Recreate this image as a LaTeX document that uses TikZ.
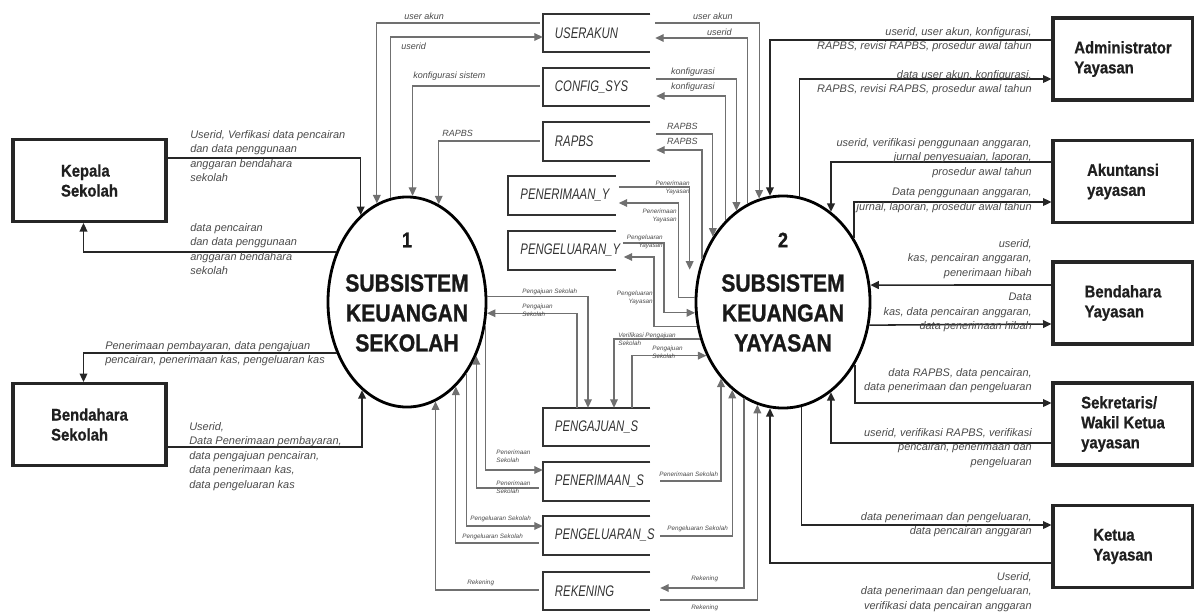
\documentclass[tikz,border=0pt]{standalone}
\usepackage{fontspec}
\setmainfont{Liberation Sans}
\newfontfamily\entfont[FakeStretch=0.88,FakeBold=0.8]{Liberation Sans Bold}
\newfontfamily\storefont[FakeStretch=0.74]{Liberation Sans}
\newfontfamily\procfont[FakeStretch=0.86,FakeBold=1]{Liberation Sans Bold}
\usetikzlibrary{shapes.geometric,arrows.meta,calc}
\definecolor{linedark}{HTML}{262626}
\definecolor{linegray}{HTML}{707070}
\definecolor{labelgray}{HTML}{4A4A4A}
\begin{document}
\begin{tikzpicture}[x=0.025cm,y=-0.025cm]

\tikzset{drawentity/.style={draw=linedark, line width=2.2pt, rectangle, minimum height=2.05cm, align=left, text=black!88, font=\entfont\fontsize{12}{14.2}\selectfont}}
\tikzset{drawprocess/.style={draw=black, line width=2pt, ellipse, inner sep=0pt}}
\tikzset{drawproctext/.style={align=center, text=black!90, font=\procfont\fontsize{17.5}{21.3}\selectfont}}
\tikzset{drawprocnum/.style={text=black!90, font=\procfont\fontsize{15}{16}\selectfont}}
\tikzset{drawstore/.style={rectangle, minimum width=2.675cm, minimum height=0.95cm, inner sep=0pt, inner xsep=0.3cm, text width=2.075cm, align=left, text=black!80, font=\storefont\itshape\fontsize{10.9}{12}\selectfont}}
\tikzset{drawflow/.style={draw=linedark, line width=1.1pt, -{Triangle[length=6pt,width=5.5pt]}}}
\tikzset{drawflowg/.style={draw=linegray, line width=0.8pt, -{Triangle[length=6pt,width=5.5pt]}}}
\tikzset{drawlabel/.style={inner sep=0pt, text=labelgray, font=\itshape\fontsize{7.8}{10.3}\selectfont}}
\tikzset{drawtag/.style={inner sep=0pt, text=labelgray, font=\itshape\fontsize{6.4}{8}\selectfont}}
\tikzset{drawsmall/.style={inner sep=0pt, text=labelgray, font=\itshape\fontsize{4.5}{5.6}\selectfont}}

\useasboundingbox (0,0) rectangle (1194,612);

% external entities
\node[drawentity, minimum width=3.825cm] at (89.5, 180.5) (ks) {Kepala\\Sekolah};
\node[drawentity, minimum width=3.825cm] at (89.5, 424.5) (bs) {Bendahara\\Sekolah};
\node[drawentity, minimum width=3.5cm] at (1123, 59) (adm) {Administrator\\Yayasan};
\node[drawentity, minimum width=3.5cm] at (1123, 181.5) (akt) {Akuntansi\\yayasan};
\node[drawentity, minimum width=3.5cm] at (1123, 303) (bdy) {Bendahara\\Yayasan};
\node[drawentity, minimum width=3.5cm] at (1123, 424) (skr) {Sekretaris/\\Wakil Ketua\\yayasan};
\node[drawentity, minimum width=3.5cm] at (1123, 546.5) (kty) {Ketua\\Yayasan};

% processes
\node[drawprocess, minimum width=3.95cm, minimum height=5.25cm] at (407, 302) (p1) {};
\node[drawprocess, minimum width=4.35cm, minimum height=5.3cm] at (783, 302) (p2) {};
\node[drawprocnum] at (407, 240) (p1n) {1};
\node[drawprocnum] at (783, 240) (p2n) {2};
\node[drawproctext] at (407, 313) (p1t) {SUBSISTEM\\KEUANGAN\\SEKOLAH};
\node[drawproctext] at (783, 313) (p2t) {SUBSISTEM\\KEUANGAN\\YAYASAN};

% data stores
\node[drawstore] at (596.5, 33) (sua) {USERAKUN};
\node[drawstore] at (596.5, 87) (scf) {CONFIG\_SYS};
\node[drawstore] at (596.5, 141.5) (srp) {RAPBS};
\node[drawstore] at (562, 195.5) (spy) {PENERIMAAN\_Y};
\node[drawstore] at (562, 250.5) (sgy) {PENGELUARAN\_Y};
\node[drawstore] at (596.5, 427) (sps) {PENGAJUAN\_S};
\node[drawstore] at (596.5, 481.5) (sns) {PENERIMAAN\_S};
\node[drawstore] at (596.5, 535.5) (sls) {PENGELUARAN\_S};
\node[drawstore] at (596.5, 591) (srk) {REKENING};
\foreach \s in {sua, scf, srp, spy, sgy, sps, sns, sls, srk}
  \draw[black!80, line width=1.5pt] (\s.north east) -- (\s.north west) -- (\s.south west) -- (\s.south east);

% school side
\draw[drawflow] ($(ks.east)+(0,-22.5)$) -| (p1.118);
\node[drawlabel, anchor=north west, align=left] at (190, 130) (l1) {Userid, Verfikasi data pencairan\\dan data penggunaan\\anggaran bendahara\\sekolah};
\draw[drawflow] (p1.145) -| ($(ks.south)+(-6,0)$);
\node[drawlabel, anchor=north west, align=left] at (190, 223) (l2) {data pencairan\\dan data penggunaan\\anggaran bendahara\\sekolah};
\draw[drawflow] (p1.216) -| ($(bs.north)+(-6,0)$);
\node[drawlabel, anchor=north west, align=left] at (105, 341) (l3) {Penerimaan pembayaran, data pengajuan\\pencairan, penerimaan kas, pengeluaran kas};
\draw[drawflow] ($(bs.east)+(0,22.5)$) -| (p1.-117);
\node[drawlabel, anchor=north west, align=left] at (189, 422) (l4) {Userid,\\Data Penerimaan pembayaran,\\data pengajuan pencairan,\\data penerimaan kas,\\data pengeluaran kas};

% stores above process 1
\draw[drawflowg] ($(sua.west)+(-3,-10)$) -| (p1.107);
\draw[drawflowg] (p1.99) |- ($(sua.west)+(0,4)$);
\draw[drawflowg] ($(scf.west)+(-3,-1)$) -| (p1.87);
\draw[drawflowg] ($(srp.west)+(-3,-0.5)$) -| (p1.72);
\node[drawtag, anchor=west] at (404, 16) (t1) {user akun};
\node[drawtag, anchor=west] at (401, 46) (t2) {userid};
\node[drawtag, anchor=west] at (413, 76) (t3) {konfigurasi sistem};
\node[drawtag, anchor=west] at (442, 133) (t4) {RAPBS};

% stores above process 2
\draw[drawflowg] ($(sua.east)+(5,-10)$) -| (p2.103);
\draw[drawflowg] (p2.110) |- ($(sua.east)+(5,5)$);
\draw[drawflowg] ($(scf.east)+(6,-8)$) -| (p2.117);
\draw[drawflowg] (p2.125) |- ($(scf.east)+(6,9)$);
\draw[drawflowg] ($(srp.east)+(6,-7.5)$) -| (p2.137);
\draw[drawflowg] (p2.152) |- ($(srp.east)+(6,8.5)$);
\node[drawtag, anchor=east] at (733, 16) (t5) {user akun};
\node[drawtag, anchor=east] at (732, 32) (t6) {userid};
\node[drawtag, anchor=east] at (715, 72) (t7) {konfigurasi};
\node[drawtag, anchor=east] at (715, 87) (t8) {konfigurasi};
\node[drawtag, anchor=east] at (698, 126) (t9) {RAPBS};
\node[drawtag, anchor=east] at (698, 141) (t10) {RAPBS};

% foundation stores
\draw[drawflowg] ($(spy.east)+(3,-8.5)$) -| ($(p2.159)+(-9,0)$);
\draw[drawflowg] (p2.177) -- ++(-16,0) |- ($(spy.east)+(3,7.5)$);
\draw[drawflowg] ($(sgy.east)+(7,-7.5)$) -| ($(p2.187)+(-31,0)$) -- (p2.187);
\draw[drawflowg] (p2.196) -- ++(-43,0) |- ($(sgy.east)+(8,6.5)$);
\node[drawsmall, anchor=north east, align=right] at (690, 181) (s1) {Penerimaan\\Yayasan};
\node[drawsmall, anchor=north east, align=right] at (677, 209) (s2) {Penerimaan\\Yayasan};
\node[drawsmall, anchor=north east, align=right] at (663, 235) (s3) {Pengeluaran\\Yayasan};
\node[drawsmall, anchor=north east, align=right] at (653, 291) (s4) {Pengeluaran\\Yayasan};

% school stores
\draw[drawflowg] (p1.4) -| ($(sps.north)+(-8.5,0)$);
\draw[drawflowg] ($(sps.north)+(-19.5,0)$) |- (p1.-8);
\draw[drawflowg] (p2.204) -| ($(sps.north)+(17.5,0)$);
\draw[drawflowg] ($(sps.north)+(35.5,0)$) |- (p2.215);
\node[drawsmall, anchor=west] at (522, 292) (s5) {Pengajuan Sekolah};
\node[drawsmall, anchor=north west, align=left] at (522, 304) (s6) {Pengajuan\\Sekolah};
\node[drawsmall, anchor=north west, align=left] at (618, 333) (s7) {Verifikasi Pengajuan\\Sekolah};
\node[drawsmall, anchor=north west, align=left] at (652, 346) (s8) {Pengajuan\\Sekolah};

\draw[drawflowg] (p1.-17) |- ($(sns.west)+(0,-11.5)$);
\draw[drawflowg] ($(sns.west)+(-4,6.5)$) -| (p1.-38);
\draw[drawflowg] ($(sns.east)+(10,-0.5)$) -| (p2.-129);
\draw[drawflowg] (p1.-50) |- ($(sls.west)+(0,-9.5)$);
\draw[drawflowg] ($(sls.west)+(-4,7.5)$) -| (p1.-60);
\draw[drawflowg] ($(sls.east)+(10,0.5)$) -| (p2.-120);
\draw[drawflowg] ($(srk.west)+(-4,-1)$) -| (p1.-74);
\draw[drawflowg] (p2.-112) |- ($(srk.east)+(10,-3)$);
\draw[drawflowg] ($(srk.east)+(10,9)$) -| (p2.-104);
\node[drawsmall, anchor=north west, align=left] at (496, 450) (s9) {Penerimaan\\Sekolah};
\node[drawsmall, anchor=north west, align=left] at (496, 481) (s10) {Penerimaan\\Sekolah};
\node[drawsmall, anchor=west] at (470, 519) (s11) {Pengeluaran Sekolah};
\node[drawsmall, anchor=west] at (462, 537) (s12) {Pengeluaran Sekolah};
\node[drawsmall, anchor=west] at (467, 583) (s13) {Rekening};
\node[drawsmall, anchor=west] at (659, 474) (s14) {Penerimaan Sekolah};
\node[drawsmall, anchor=west] at (667, 529) (s15) {Pengeluaran Sekolah};
\node[drawsmall, anchor=west] at (691, 579) (s16) {Rekening};
\node[drawsmall, anchor=west] at (691, 608) (s17) {Rekening};

% foundation side
\draw[drawflow] ($(adm.west)+(0,-19)$) -| (p2.97);
\draw[drawflow] (p2.81) |- ($(adm.west)+(0,20)$);
\draw[drawflow] ($(akt.west)+(0,-19.5)$) -| (p2.62);
\draw[drawflow] (p2.42) |- ($(akt.west)+(0,20.5)$);
\draw[drawflow] ($(bdy.west)+(0,-18)$) -- (p2.11);
\draw[drawflow] (p2.-15) -- ($(bdy.west)+(0,21)$);
\draw[drawflow] (p2.-41) |- ($(skr.west)+(0,-21)$);
\draw[drawflow] ($(skr.west)+(0,19)$) -| (p2.-62);
\draw[drawflow] (p2.-80) |- ($(kty.west)+(0,-21.5)$);
\draw[drawflow] ($(kty.west)+(0,16.5)$) -| (p2.-97);
\node[drawlabel, anchor=north east, align=right] at (1032, 27) (r1) {userid, user akun, konfigurasi,\\RAPBS, revisi RAPBS, prosedur awal tahun};
\node[drawlabel, anchor=north east, align=right] at (1032, 70) (r2) {data user akun, konfigurasi,\\RAPBS, revisi RAPBS, prosedur awal tahun};
\node[drawlabel, anchor=north east, align=right] at (1032, 138) (r3) {userid, verifikasi penggunaan anggaran,\\jurnal penyesuaian, laporan,\\prosedur awal tahun};
\node[drawlabel, anchor=north east, align=right] at (1032, 188) (r4) {Data penggunaan anggaran,\\jurnal, laporan, prosedur awal tahun};
\node[drawlabel, anchor=north east, align=right] at (1032, 239) (r5) {userid,\\kas, pencairan anggaran,\\penerimaan hibah};
\node[drawlabel, anchor=north east, align=right] at (1032, 293) (r6) {Data\\kas, data pencairan anggaran,\\data penerimaan hibah};
\node[drawlabel, anchor=north east, align=right] at (1032, 368) (r7) {data RAPBS, data pencairan,\\data penerimaan dan pengeluaran};
\node[drawlabel, anchor=north east, align=right] at (1032, 428) (r8) {userid, verifikasi RAPBS, verifikasi\\pencairan, penerimaan dan\\pengeluaran};
\node[drawlabel, anchor=north east, align=right] at (1032, 512) (r9) {data penerimaan dan pengeluaran,\\data pencairan anggaran};
\node[drawlabel, anchor=north east, align=right] at (1032, 572) (r10) {Userid,\\data penerimaan dan pengeluaran,\\verifikasi data pencairan anggaran};

\end{tikzpicture}
\end{document}
